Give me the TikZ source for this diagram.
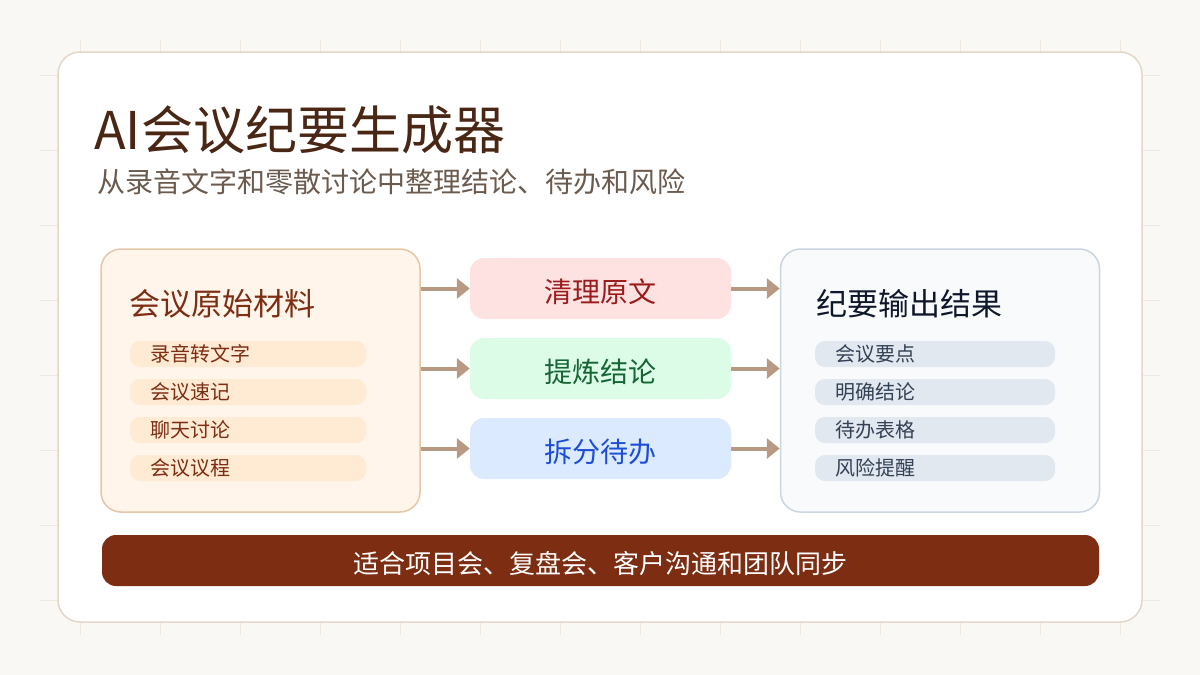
\documentclass[tikz,border=0pt]{standalone}
\usepackage{fontspec}
\setmainfont{Noto Sans CJK SC}
\usepackage{xcolor}
\usetikzlibrary{arrows.meta,positioning}
\definecolor{pagebg}{HTML}{FAF8F4}
\definecolor{gridc}{HTML}{EEE8DF}
\definecolor{cardline}{HTML}{E2D7C8}
\definecolor{titlec}{HTML}{4A2614}
\definecolor{subc}{HTML}{6B5A4E}
\definecolor{srcfill}{HTML}{FFF5EB}
\definecolor{srcline}{HTML}{E5C6A6}
\definecolor{srctext}{HTML}{7C2D12}
\definecolor{srcpill}{HTML}{FFEAD3}
\definecolor{cleanfill}{HTML}{FEE2E2}
\definecolor{cleantext}{HTML}{991B1B}
\definecolor{distilfill}{HTML}{DCFCE7}
\definecolor{distiltext}{HTML}{166534}
\definecolor{splitfill}{HTML}{DBEAFE}
\definecolor{splittext}{HTML}{1D4ED8}
\definecolor{outfill}{HTML}{F8FAFC}
\definecolor{outline}{HTML}{CBD5E1}
\definecolor{outtext}{HTML}{0F172A}
\definecolor{outpill}{HTML}{E2E8F0}
\definecolor{outpilltext}{HTML}{334155}
\definecolor{arrowc}{HTML}{B89A84}
\definecolor{barc}{HTML}{7C2D12}

\begin{document}
\begin{tikzpicture}[x=1pt, y=-1pt,
  gridline/.style={gridc, line width=1pt},
  sidebox/.style={draw, rounded corners=20pt, line width=1.5pt, minimum width=319pt, minimum height=263pt},
  stepbox/.style={rounded corners=14pt, minimum width=261pt, minimum height=61pt, text height=27.5pt, text depth=0pt, font=\fontsize{28}{32}\selectfont},
  pill/.style={rounded corners=10pt, minimum height=26pt, inner xsep=20pt, inner ysep=0pt, align=left, font=\fontsize{20}{23}\selectfont},
  flow/.style={arrowc, line width=4pt, -{Triangle[length=13pt, width=20pt]}}]
  \fill[pagebg] (0,0) rectangle (1200,675);
  \draw[gridline] (80,40) -- (80,635);
  \draw[gridline] (160,40) -- (160,635);
  \draw[gridline] (240,40) -- (240,635);
  \draw[gridline] (320,40) -- (320,635);
  \draw[gridline] (400,40) -- (400,635);
  \draw[gridline] (480,40) -- (480,635);
  \draw[gridline] (560,40) -- (560,635);
  \draw[gridline] (640,40) -- (640,635);
  \draw[gridline] (720,40) -- (720,635);
  \draw[gridline] (800,40) -- (800,635);
  \draw[gridline] (880,40) -- (880,635);
  \draw[gridline] (960,40) -- (960,635);
  \draw[gridline] (1040,40) -- (1040,635);
  \draw[gridline] (1120,40) -- (1120,635);
  \draw[gridline] (40,75) -- (1160,75);
  \draw[gridline] (40,150) -- (1160,150);
  \draw[gridline] (40,225) -- (1160,225);
  \draw[gridline] (40,300) -- (1160,300);
  \draw[gridline] (40,375) -- (1160,375);
  \draw[gridline] (40,450) -- (1160,450);
  \draw[gridline] (40,525) -- (1160,525);
  \draw[gridline] (40,600) -- (1160,600);
  \draw[cardline, fill=white, line width=1.5pt, rounded corners=22pt] (58,52) rectangle (1142,622);

  \node[anchor=west, inner sep=0pt, text=titlec, font=\fontsize{52}{62}\selectfont] (title) at (94,130) {AI会议纪要生成器};
  \node[anchor=west, inner sep=0pt, text=subc, font=\fontsize{28}{32}\selectfont] (subtitle) at (97,182) {从录音文字和零散讨论中整理结论、待办和风险};

  \node[sidebox, fill=srcfill, draw=srcline] (src) at (260.5,380.5) {};
  \node[anchor=west, inner sep=0pt, text=srctext, font=\fontsize{31}{35}\selectfont] (srctitle) at (129,304) {会议原始材料};
  \node[pill, fill=srcpill, text=srctext, text width=196pt] (src1) at (248,354) {录音转文字};
  \node[pill, fill=srcpill, text=srctext, text width=196pt] (src2) at (248,392) {会议速记};
  \node[pill, fill=srcpill, text=srctext, text width=196pt] (src3) at (248,430) {聊天讨论};
  \node[pill, fill=srcpill, text=srctext, text width=196pt] (src4) at (248,468) {会议议程};

  \node[stepbox, fill=cleanfill, text=cleantext] (clean) at (600.5,288.5) {清理原文};
  \node[stepbox, fill=distilfill, text=distiltext] (distil) at (600.5,368.5) {提炼结论};
  \node[stepbox, fill=splitfill, text=splittext] (split) at (600.5,448.5) {拆分待办};

  \node[sidebox, fill=outfill, draw=outline] (out) at (940,380.5) {};
  \node[anchor=west, inner sep=0pt, text=outtext, font=\fontsize{31}{35}\selectfont] (outtitle) at (816,304) {纪要输出结果};
  \node[pill, fill=outpill, text=outpilltext, text width=200pt] (out1) at (935,354) {会议要点};
  \node[pill, fill=outpill, text=outpilltext, text width=200pt] (out2) at (935,392) {明确结论};
  \node[pill, fill=outpill, text=outpilltext, text width=200pt] (out3) at (935,430) {待办表格};
  \node[pill, fill=outpill, text=outpilltext, text width=200pt] (out4) at (935,468) {风险提醒};

  \draw[flow] (src.east |- clean.west) -- (clean.west);
  \draw[flow] (src.east |- distil.west) -- (distil.west);
  \draw[flow] (src.east |- split.west) -- (split.west);
  \draw[flow] (clean.east) -- (out.west |- clean.east);
  \draw[flow] (distil.east) -- (out.west |- distil.east);
  \draw[flow] (split.east) -- (out.west |- split.east);

  \node[fill=barc, text=white, rounded corners=14pt, minimum width=997pt, minimum height=51pt, text height=26pt, text depth=0pt, font=\fontsize{26}{30}\selectfont] (usage) at (600.5,560.5) {适合项目会、复盘会、客户沟通和团队同步};
\end{tikzpicture}
\end{document}
